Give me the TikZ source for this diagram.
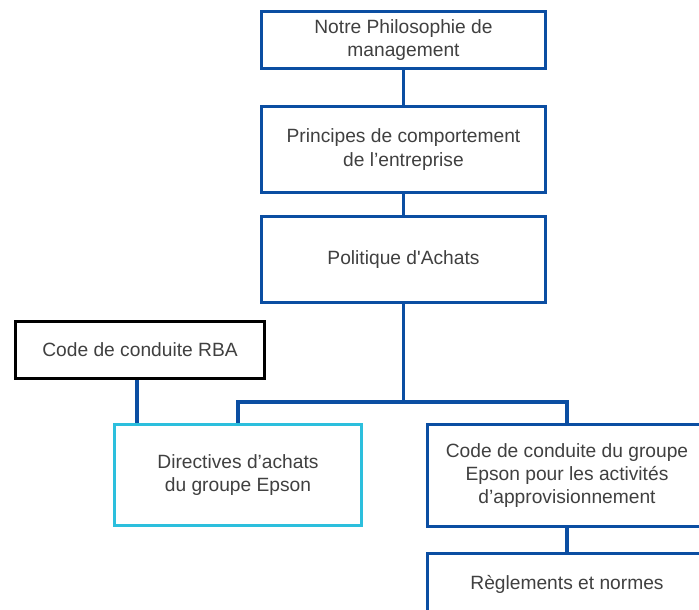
\documentclass[tikz,border=0pt]{standalone}
\usepackage{fontspec}
\setmainfont{Liberation Sans}[Ligatures=TeXOff]
\definecolor{eblue}{HTML}{0B4EA2}
\definecolor{ecyan}{HTML}{2CBFDD}
\definecolor{etext}{HTML}{404040}
\begin{document}
\begin{tikzpicture}[x=1pt,y=-1pt,
  box/.style={draw=eblue, line width=2.3pt, fill=white, align=center, text=etext,
    font=\fontsize{19.2}{23.3}\selectfont, inner sep=0pt},
  conn/.style={draw=eblue, line width=3.6pt}]
\useasboundingbox (0,0) rectangle (699,610);
\clip (0,0) rectangle (699,610);
\fill[white] (0,0) rectangle (699,610);
\coordinate (j) at (403.5,402);
\node[box, minimum width=283pt, minimum height=56pt] (n1) at (403.5,40) {Notre Philosophie de\\management};
\node[box, minimum width=283pt, minimum height=85pt] (n2) at (403.5,149.5) {Principes de comportement\\de l’entreprise};
\node[box, minimum width=283pt, minimum height=85pt] (n3) at (403.5,259.5) {Politique d'Achats};
\node[box, draw=black, line width=2pt, minimum width=248pt, minimum height=56pt] (rba) at (140,350) {Code de conduite RBA};
\node[box, draw=ecyan, minimum width=246pt, minimum height=100pt] (dir) at (238,475) {Directives d’achats\\du groupe Epson};
\node[box, minimum width=278pt, minimum height=101pt] (code) at (567,475.5) {Code de conduite du groupe\\Epson pour les activités\\d’approvisionnement};
\node[box, minimum width=278pt, minimum height=60pt] (regl) at (567,584) {Règlements et normes};
\draw[conn] (n1.south) -- (n2.north);
\draw[conn] (n2.south) -- (n3.north);
\draw[conn] (n3.south) -- (j);
\draw[conn] (dir.north) |- (j) -| (code.north);
\draw[conn] (rba.south -| 137,0) -- (dir.north -| 137,0);
\draw[conn] (code.south) -- (regl.north);
\foreach \n in {n1,n2,n3,code,regl}{\draw[eblue, line width=2.3pt] (\n.south west) rectangle (\n.north east);}
\draw[black, line width=2pt] (rba.south west) rectangle (rba.north east);
\draw[ecyan, line width=2.3pt] (dir.south west) rectangle (dir.north east);
\end{tikzpicture}
\end{document}
